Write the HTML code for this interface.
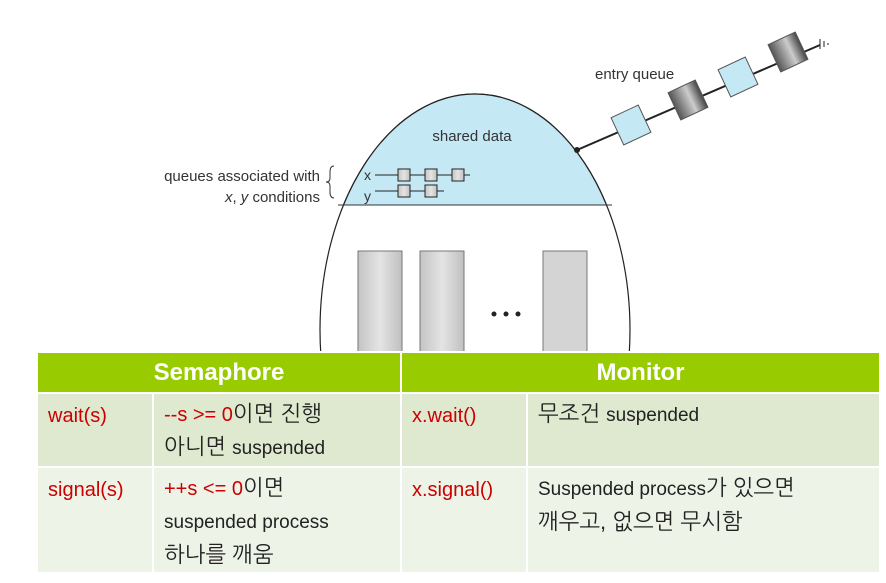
<!DOCTYPE html>
<html><head><meta charset="utf-8"><style>
body{margin:0;width:886px;height:583px;background:#fff;position:relative;overflow:hidden;font-family:"Liberation Sans","NanumGothic",sans-serif}
table{position:absolute;left:36px;top:351px;border-collapse:collapse;width:845px;table-layout:fixed}
td{border:2px solid #fff;vertical-align:top;font-size:22px;line-height:32px;padding:4px 10px 0;font-family:"Liberation Sans","NanumGothic",sans-serif;color:#222}
th{background:#99cc00;color:#fff;font-size:24px;height:39px;border:2px solid #fff;font-weight:bold;padding:0}
.r{color:#c00;font-size:20px}
.s{font-size:19px}
tr.a td{background:#dfe9cf;height:66px}
tr.b td{background:#eef3e7;height:98px}
</style></head><body>
<svg width="886" height="583" style="position:absolute;left:0;top:0">
<defs>
<linearGradient id="g" x1="0" x2="1"><stop offset="0" stop-color="#c4c4c4"/><stop offset="0.5" stop-color="#e4e4e4"/><stop offset="1" stop-color="#c0c0c0"/></linearGradient>
<linearGradient id="d" x1="0" x2="1"><stop offset="0" stop-color="#555"/><stop offset="0.6" stop-color="#ccc"/><stop offset="1" stop-color="#444"/></linearGradient>
<clipPath id="c"><rect x="0" y="0" width="886" height="205"/></clipPath>
</defs>
<ellipse cx="475" cy="330" rx="155" ry="236" fill="#fff" stroke="#222" stroke-width="1.2"/>
<ellipse cx="475" cy="330" rx="155" ry="236" fill="#c5e8f5" stroke="#222" stroke-width="1.2" clip-path="url(#c)"/>
<line x1="338" y1="205" x2="612" y2="205" stroke="#333"/>
<rect x="358" y="251" width="44" height="110" fill="url(#g)" stroke="#777"/>
<rect x="420" y="251" width="44" height="110" fill="url(#g)" stroke="#777"/>
<rect x="543" y="251" width="44" height="110" fill="#d4d4d4" stroke="#777"/>
<circle cx="494" cy="314" r="2.5" fill="#222"/><circle cx="506" cy="314" r="2.5" fill="#222"/><circle cx="518" cy="314" r="2.5" fill="#222"/>
<text x="472" y="141" font-size="15" text-anchor="middle" fill="#333">shared data</text>
<text x="320" y="181" font-size="15" text-anchor="end" fill="#333">queues associated with</text>
<text x="320" y="202" font-size="15" text-anchor="end" fill="#333"><tspan font-style="italic">x</tspan>, <tspan font-style="italic">y</tspan> conditions</text>
<path d="M334 166 q-4 0 -4 6 v6 q0 4 -4 4 q4 0 4 4 v6 q0 6 4 6" fill="none" stroke="#333"/>
<text x="364" y="180" font-size="14" fill="#333">x</text>
<text x="364" y="201" font-size="14" fill="#333">y</text>
<g stroke="#222" fill="url(#g)">
<line x1="375" y1="175" x2="398" y2="175"/><rect x="398" y="169" width="12" height="12"/>
<line x1="410" y1="175" x2="425" y2="175"/><rect x="425" y="169" width="12" height="12"/>
<line x1="437" y1="175" x2="452" y2="175"/><rect x="452" y="169" width="12" height="12"/>
<line x1="464" y1="175" x2="470" y2="175"/>
<line x1="375" y1="191" x2="398" y2="191"/><rect x="398" y="185" width="12" height="12"/>
<line x1="410" y1="191" x2="425" y2="191"/><rect x="425" y="185" width="12" height="12"/>
<line x1="437" y1="191" x2="444" y2="191"/>
</g>
<text x="595" y="79" font-size="15" fill="#333">entry queue</text>
<line x1="577" y1="150" x2="820" y2="45" stroke="#222" stroke-width="2"/>
<circle cx="577" cy="150" r="3" fill="#222"/>
<g stroke="#555">
<rect x="-15" y="-15" width="30" height="30" fill="#c5e8f5" transform="translate(631,125) rotate(-25)"/>
<rect x="-15" y="-15" width="30" height="30" fill="url(#d)" transform="translate(688,100) rotate(-25)"/>
<rect x="-15" y="-15" width="30" height="30" fill="#c5e8f5" transform="translate(738,77) rotate(-25)"/>
<rect x="-15" y="-15" width="30" height="30" fill="url(#d)" transform="translate(788,52) rotate(-25)"/>
</g>
<path d="M820 39 v10 M824 41 v6 M828 43 v2" stroke="#222"/>
</svg>
<table>
<colgroup><col style="width:116px"><col style="width:248px"><col style="width:126px"><col></colgroup>
<tr><th colspan="2">Semaphore</th><th colspan="2">Monitor</th></tr>
<tr class="a"><td class="r" style="padding-top:6px">wait(s)</td><td><span class="r">--s &gt;= 0</span>이면 진행<br>아니면 <span class="s">suspended</span></td><td class="r" style="padding-top:6px">x.wait()</td><td>무조건 <span class="s">suspended</span></td></tr>
<tr class="b"><td class="r" style="padding-top:6px">signal(s)</td><td><span class="r">++s &lt;= 0</span>이면<br><span class="s">suspended process</span><br>하나를 깨움</td><td class="r" style="padding-top:6px">x.signal()</td><td><span class="s">Suspended process</span>가 있으면<br>깨우고, 없으면 무시함</td></tr>
</table>
</body></html>
